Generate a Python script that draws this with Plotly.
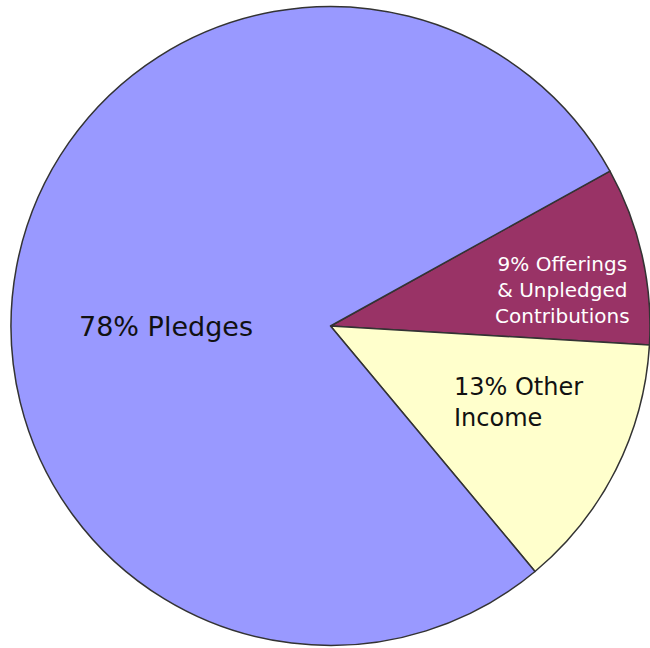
import plotly.graph_objects as go

labels = ["9% Offerings & Unpledged Contributions", "13% Other Income", "78% Pledges"]
values = [9, 13, 78]
colors = ["#993366", "#FFFFCC", "#9999FF"]

W, H = 650, 648

fig = go.Figure(go.Pie(
    labels=labels,
    values=values,
    sort=False,
    direction="clockwise",
    rotation=61,
    marker=dict(colors=colors, line=dict(color="#333333", width=1.5)),
    textinfo="none",
    hoverinfo="label",
    showlegend=False,
    domain=dict(x=[11 / W, 1], y=[2 / H, 642 / H]),
))

font = "DejaVu Sans, Verdana, sans-serif"

def px(x, y):
    return x / W, 1 - y / H

ann = []

def add(text, x, y, size, color, xanchor="center", align="center"):
    xx, yy = px(x, y)
    ann.append(dict(x=xx, y=yy, text=text, showarrow=False, xref="paper", yref="paper",
                    xanchor=xanchor, yanchor="middle", align=align,
                    font=dict(family=font, size=size, color=color)))

add("78% Pledges", 166, 326, 27, "#111111")
add("9% Offerings<br>&amp; Unpledged<br>Contributions", 562, 290, 20, "#ffffff")
add("13% Other<br>Income", 452, 402, 24, "#111111", xanchor="left", align="left")

fig.update_layout(
    width=W, height=H,
    margin=dict(l=0, r=0, t=0, b=0),
    paper_bgcolor="white",
    plot_bgcolor="white",
    annotations=ann,
)

fig.write_html("out.html", config={"displayModeBar": False},
               post_script="document.body.style.margin='0';")
